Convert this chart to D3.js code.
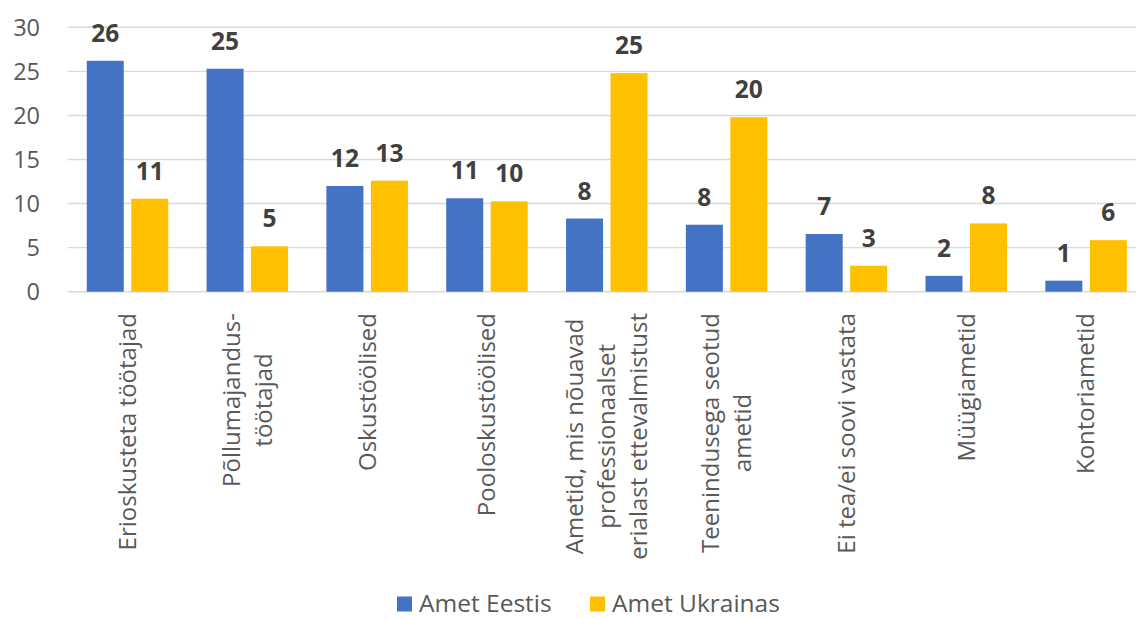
<!DOCTYPE html>
<html>
<head>
<meta charset="utf-8">
<script src="https://cdn.jsdelivr.net/npm/d3@7"></script>
<style>
  html, body { margin: 0; padding: 0; background: #fff; }
  svg { display: block; font-family: "Open Sans", "Noto Sans", sans-serif; }
</style>
</head>
<body>
<svg id="chart" width="1136" height="619"></svg>
<script>
const categories = [
  "Erioskusteta töötajad",
  "Põllumajandus-\ntöötajad",
  "Oskustöölised",
  "Pooloskustöölised",
  "Ametid, mis nõuavad\nprofessionaalset\nerialast ettevalmistust",
  "Teenindusega seotud\nametid",
  "Ei tea/ei soovi vastata",
  "Müügiametid",
  "Kontoriametid"
];
const seriesNames = ["Amet Eestis", "Amet Ukrainas"];
const eestis   = [26.2, 25.3, 12.0, 10.6, 8.3, 7.6, 6.55, 1.8, 1.25];
const ukrainas = [10.55, 5.15, 12.6, 10.25, 24.8, 19.8, 2.95, 7.75, 5.85];
const yTicks = [0, 5, 10, 15, 20, 25, 30];
const colors = ["#4472C4", "#FFC000"];

const svg = d3.select("#chart");
const plotLeft = 67.6, plotRight = 1146, plotTop = 27.3, plotBottom = 291.7;

const x0 = d3.scaleBand().domain(categories).range([plotLeft, plotRight]).padding(0);
const x1 = d3.scaleBand().domain(seriesNames).range([0, x0.bandwidth()])
  .paddingInner(0.1685).paddingOuter(0.43);
const y = d3.scaleLinear().domain([0, 30]).range([plotBottom, plotTop]);
const color = d3.scaleOrdinal().domain(seriesNames).range(colors);

// gridlines
svg.append("g").selectAll("line").data(yTicks).join("line")
  .attr("x1", plotLeft).attr("x2", plotRight)
  .attr("y1", d => y(d)).attr("y2", d => y(d))
  .attr("stroke", "#d9d9d9").attr("stroke-width", 1.4);

// y axis labels
const yAxis = d3.axisLeft(y).tickValues(yTicks).tickSize(0).tickPadding(0);
const ya = svg.append("g").attr("transform", `translate(40,0)`).call(yAxis);
ya.select(".domain").remove();
ya.selectAll("text").attr("font-size", 23.5).attr("fill", "#595959")
  .attr("font-family", "Open Sans").attr("dy", "0.34em");

// data rows
const rows = categories.map((c, i) => ({ cat: c, vals: [eestis[i], ukrainas[i]] }));

const groups = svg.append("g").selectAll("g").data(rows).join("g")
  .attr("transform", d => `translate(${x0(d.cat)},0)`);

groups.selectAll("rect").data(d => d.vals.map((v, j) => ({ key: seriesNames[j], v })))
  .join("rect")
  .attr("x", d => x1(d.key)).attr("width", x1.bandwidth())
  .attr("y", d => y(d.v)).attr("height", d => y(0) - y(d.v))
  .attr("fill", d => color(d.key));

groups.selectAll("text.val").data(d => d.vals.map((v, j) => ({ key: seriesNames[j], v })))
  .join("text").attr("class", "val")
  .attr("x", d => x1(d.key) + x1.bandwidth() / 2)
  .attr("y", d => y(d.v) - 19)
  .attr("text-anchor", "middle")
  .attr("font-size", 24.5).attr("font-weight", "bold").attr("fill", "#404040")
  .text(d => d3.format(".0f")(d.v));

// category labels (rotated)
const lineH = 32;
const labelTop = 313;
categories.forEach(c => {
  const lines = c.split("\n");
  const g = svg.append("g")
    .attr("transform", `translate(${x0(c) + x0.bandwidth() / 2},${labelTop}) rotate(-90)`);
  const texts = lines.map((ln, i) => g.append("text")
    .attr("font-size", 24).attr("fill", "#595959")
    .attr("text-anchor", "middle")
    .attr("y", (i - (lines.length - 1) / 2) * lineH)
    .attr("dy", "0.35em")
    .text(ln));
  const maxLen = d3.max(texts, t => t.node().getComputedTextLength());
  texts.forEach(t => t.attr("x", -maxLen / 2));
});

// legend
const legend = svg.append("g");
const legendItems = [{ name: seriesNames[0], x: 397 }, { name: seriesNames[1], x: 590 }];
legendItems.forEach((it, i) => {
  legend.append("rect").attr("x", it.x).attr("y", 596.5).attr("width", 15).attr("height", 15)
    .attr("fill", colors[i]);
  legend.append("text").attr("x", it.x + 22).attr("y", 611.5)
    .attr("font-size", 24.5).attr("fill", "#595959").text(it.name);
});
</script>
</body>
</html>
